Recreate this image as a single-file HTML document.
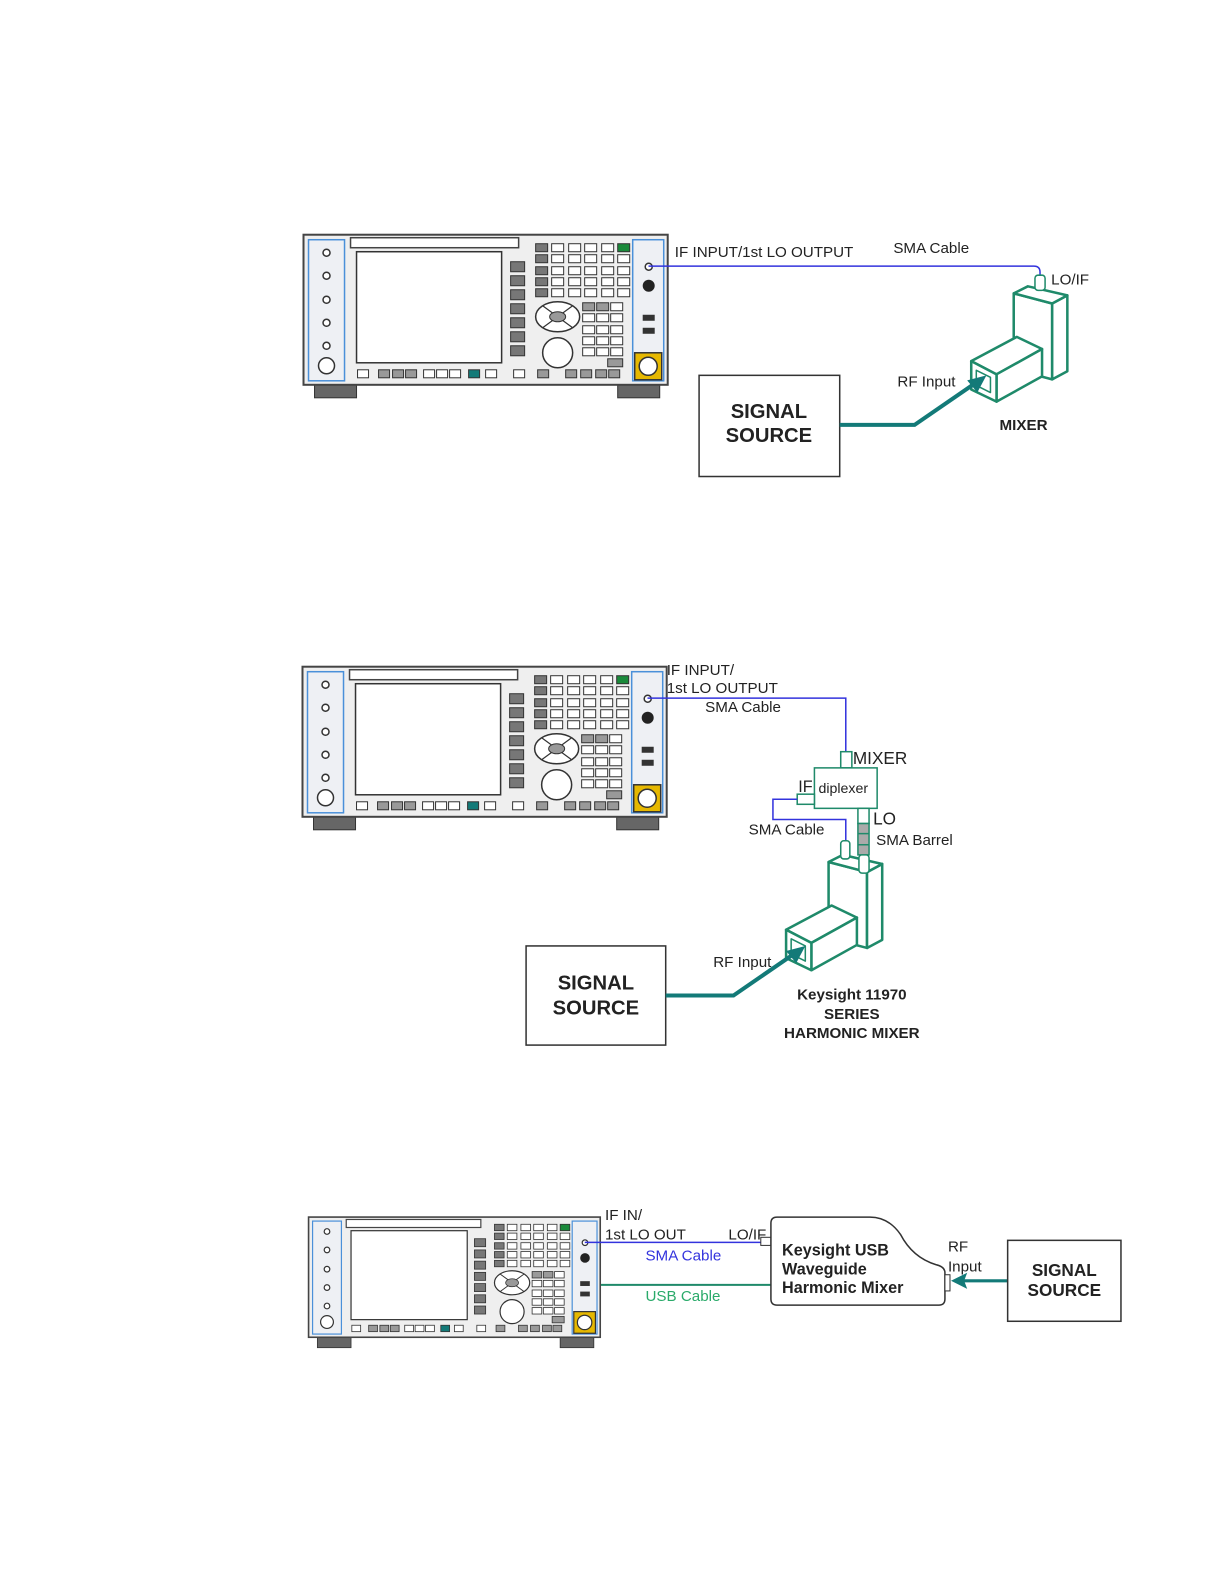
<!DOCTYPE html>
<html><head><meta charset="utf-8"><style>
html,body{margin:0;padding:0;background:#fff;}
svg{display:block;}
text{font-family:"Liberation Sans",sans-serif;fill:#222;}
</style></head><body>
<svg width="1224" height="1584" viewBox="0 0 1224 1584" xmlns="http://www.w3.org/2000/svg">
<defs>
<g id="inst">
 <rect x="11" y="148" width="42" height="15" fill="#666" stroke="#333"/>
 <rect x="314" y="148" width="42" height="15" fill="#666" stroke="#333"/>
 <rect x="0" y="0" width="364" height="150" fill="#efefef" stroke="#444" stroke-width="2"/>
 <rect x="47" y="3" width="168" height="10" fill="#fff" stroke="#444" stroke-width="1.5"/>
 <rect x="5" y="5" width="36" height="141" fill="#eef0f4" stroke="#4a90d9" stroke-width="1.5"/>
 <g fill="#fff" stroke="#333" stroke-width="1.5">
  <circle cx="23" cy="18" r="3.5"/><circle cx="23" cy="41" r="3.5"/><circle cx="23" cy="65" r="3.5"/><circle cx="23" cy="88" r="3.5"/><circle cx="23" cy="111" r="3.5"/><circle cx="23" cy="131" r="8"/>
  <rect x="53" y="17" width="145" height="111"/>
 </g>
 <g fill="#777" stroke="#333" stroke-width="1">
  <rect x="207" y="27" width="14" height="10"/><rect x="207" y="41" width="14" height="10"/><rect x="207" y="55" width="14" height="10"/><rect x="207" y="69" width="14" height="10"/><rect x="207" y="83" width="14" height="10"/><rect x="207" y="97" width="14" height="10"/><rect x="207" y="111" width="14" height="10"/>
  <rect x="232" y="9" width="12" height="8"/><rect x="232" y="20" width="12" height="8"/><rect x="232" y="32" width="12" height="8"/><rect x="232" y="43" width="12" height="8"/><rect x="232" y="54" width="12" height="8"/>
 </g>
 <g fill="#fff" stroke="#333" stroke-width="1">
  <rect x="248" y="9" width="12" height="8"/><rect x="265" y="9" width="12" height="8"/><rect x="281" y="9" width="12" height="8"/><rect x="298" y="9" width="12" height="8"/>
  <rect x="248" y="20" width="12" height="8"/><rect x="265" y="20" width="12" height="8"/><rect x="281" y="20" width="12" height="8"/><rect x="298" y="20" width="12" height="8"/><rect x="314" y="20" width="12" height="8"/>
  <rect x="248" y="32" width="12" height="8"/><rect x="265" y="32" width="12" height="8"/><rect x="281" y="32" width="12" height="8"/><rect x="298" y="32" width="12" height="8"/><rect x="314" y="32" width="12" height="8"/>
  <rect x="248" y="43" width="12" height="8"/><rect x="265" y="43" width="12" height="8"/><rect x="281" y="43" width="12" height="8"/><rect x="298" y="43" width="12" height="8"/><rect x="314" y="43" width="12" height="8"/>
  <rect x="248" y="54" width="12" height="8"/><rect x="265" y="54" width="12" height="8"/><rect x="281" y="54" width="12" height="8"/><rect x="298" y="54" width="12" height="8"/><rect x="314" y="54" width="12" height="8"/>
  <rect x="279" y="79" width="12" height="8"/><rect x="293" y="79" width="12" height="8"/><rect x="307" y="79" width="12" height="8"/>
  <rect x="279" y="91" width="12" height="8"/><rect x="293" y="91" width="12" height="8"/><rect x="307" y="91" width="12" height="8"/>
  <rect x="279" y="102" width="12" height="8"/><rect x="293" y="102" width="12" height="8"/><rect x="307" y="102" width="12" height="8"/>
  <rect x="279" y="113" width="12" height="8"/><rect x="293" y="113" width="12" height="8"/><rect x="307" y="113" width="12" height="8"/>
  <rect x="307" y="68" width="12" height="8"/>
  <rect x="54" y="135" width="11" height="8"/><rect x="120" y="135" width="11" height="8"/><rect x="133" y="135" width="11" height="8"/><rect x="146" y="135" width="11" height="8"/><rect x="182" y="135" width="11" height="8"/><rect x="210" y="135" width="11" height="8"/>
 </g>
 <rect x="314" y="9" width="12" height="8" fill="#1a8a3a" stroke="#333"/>
 <g fill="#999" stroke="#333" stroke-width="1">
  <rect x="279" y="68" width="12" height="8"/><rect x="293" y="68" width="12" height="8"/>
  <rect x="304" y="124" width="15" height="8"/>
  <rect x="75" y="135" width="11" height="8"/><rect x="89" y="135" width="11" height="8"/><rect x="102" y="135" width="11" height="8"/>
  <rect x="234" y="135" width="11" height="8"/><rect x="262" y="135" width="11" height="8"/><rect x="277" y="135" width="11" height="8"/><rect x="292" y="135" width="11" height="8"/><rect x="305" y="135" width="11" height="8"/>
 </g>
 <rect x="165" y="135" width="11" height="8" fill="#137a78" stroke="#333"/>
 <ellipse cx="254" cy="82" rx="22" ry="15" fill="#fff" stroke="#333" stroke-width="1.5"/>
 <path d="M239 71 L269 93 M269 71 L239 93" stroke="#333" stroke-width="1.2"/>
 <ellipse cx="254" cy="82" rx="8" ry="5" fill="#999" stroke="#333"/>
 <circle cx="254" cy="118" r="15" fill="#fff" stroke="#333" stroke-width="1.5"/>
 <rect x="329" y="5" width="31" height="141" fill="#eef0f4" stroke="#4a90d9" stroke-width="1.5"/>
 <circle cx="345" cy="32" r="3.5" fill="#fff" stroke="#333" stroke-width="1.5"/>
 <circle cx="345" cy="51" r="6" fill="#222"/>
 <rect x="339" y="80" width="12" height="6" fill="#333"/>
 <rect x="339" y="93" width="12" height="6" fill="#333"/>
 <rect x="331" y="118" width="27" height="27" fill="#e6b800" stroke="#333" stroke-width="1.5"/>
 <circle cx="344.5" cy="131.5" r="9" fill="#fff" stroke="#333" stroke-width="1.5"/>
</g>
<g id="mixbody" fill="#fff" stroke="#1f8a6a" stroke-width="2.5" stroke-linejoin="round">
 <polygon points="1002,290 1040,300 1040,375 1002,365"/>
 <polygon points="1040,300 1055,292 1055,367 1040,375"/>
 <polygon points="1002,290 1016,283 1055,292 1040,300"/>
 <polygon points="960,357 1005,333 1030,345 985,370"/>
 <polygon points="985,370 1030,345 1030,372 985,397"/>
 <polygon points="960,357 985,370 985,397 960,385"/>
 <polygon points="965,366 979,373 979,388 965,381" stroke-width="1.5"/>
</g>
</defs>
<g transform="scale(1.0117)">
<!-- Diagram 1 -->
<use href="#inst" transform="translate(300,232) scale(0.989)"/>
<path d="M641 263 L1022 263 Q1028 263 1028 269 L1028 273" fill="none" stroke="#3333dd" stroke-width="1.5"/>
<use href="#mixbody"/>
<rect x="1023" y="272" width="10" height="15" rx="3" fill="#fff" stroke="#1f8a6a" stroke-width="1.5"/>
<text x="667" y="254" font-size="15">IF INPUT/1st LO OUTPUT</text>
<text x="883" y="250" font-size="15">SMA Cable</text>
<text x="1039" y="281" font-size="15">LO/IF</text>
<text x="887" y="382" font-size="15">RF Input</text>
<text x="988" y="425" font-size="15" font-weight="bold">MIXER</text>
<rect x="691" y="371" width="139" height="100" fill="#fff" stroke="#333" stroke-width="1.5"/>
<text x="760" y="413" font-size="20" font-weight="bold" text-anchor="middle">SIGNAL</text>
<text x="760" y="437" font-size="20" font-weight="bold" text-anchor="middle">SOURCE</text>
<polyline points="830,420 904,420 965,378" fill="none" stroke="#137a78" stroke-width="4"/>
<polygon points="975,371 956,376 966,388" fill="#137a78"/>

<!-- Diagram 2 -->
<use href="#inst" transform="translate(299,659) scale(0.989)"/>
<path d="M640 690 L836 690 L836 743" fill="none" stroke="#3333dd" stroke-width="1.5"/>
<rect x="831" y="743" width="11" height="16" fill="#fff" stroke="#1f8a6a" stroke-width="1.5"/>
<rect x="805" y="759" width="62" height="40" fill="#fff" stroke="#1f8a6a" stroke-width="1.5"/>
<rect x="788" y="785" width="17" height="10" fill="#fff" stroke="#1f8a6a" stroke-width="1.5"/>
<path d="M788 790 L764 790 L764 810 L836 810 L836 832" fill="none" stroke="#3333dd" stroke-width="1.5"/>
<use href="#mixbody" transform="translate(-183,562)"/>
<rect x="831" y="831" width="9" height="18" rx="3" fill="#fff" stroke="#1f8a6a" stroke-width="1.5"/>
<rect x="848" y="799" width="11" height="15" fill="#fff" stroke="#1f8a6a" stroke-width="1.5"/>
<rect x="848" y="814" width="11" height="31" fill="#aaa" stroke="#1f8a6a" stroke-width="1.5"/>
<path d="M848 824 L859 824 M848 835 L859 835" stroke="#1f8a6a" stroke-width="1.5"/>
<rect x="849" y="845" width="10" height="18" rx="3" fill="#fff" stroke="#1f8a6a" stroke-width="1.5"/>
<text x="659" y="667" font-size="15">IF INPUT/</text>
<text x="659" y="685" font-size="15">1st LO OUTPUT</text>
<text x="697" y="704" font-size="15">SMA Cable</text>
<text x="843" y="755" font-size="17">MIXER</text>
<text x="809" y="784" font-size="14">diplexer</text>
<text x="789" y="783" font-size="16">IF</text>
<text x="863" y="815" font-size="17">LO</text>
<text x="866" y="835" font-size="15">SMA Barrel</text>
<text x="740" y="825" font-size="15">SMA Cable</text>
<text x="705" y="956" font-size="15">RF Input</text>
<text x="842" y="988" font-size="15" font-weight="bold" text-anchor="middle">Keysight 11970</text>
<text x="842" y="1007" font-size="15" font-weight="bold" text-anchor="middle">SERIES</text>
<text x="842" y="1026" font-size="15" font-weight="bold" text-anchor="middle">HARMONIC MIXER</text>
<rect x="520" y="935" width="138" height="98" fill="#fff" stroke="#333" stroke-width="1.5"/>
<text x="589" y="978" font-size="20" font-weight="bold" text-anchor="middle">SIGNAL</text>
<text x="589" y="1003" font-size="20" font-weight="bold" text-anchor="middle">SOURCE</text>
<polyline points="658,984 725,984 786,942" fill="none" stroke="#137a78" stroke-width="4"/>
<polygon points="796,935 777,940 787,952" fill="#137a78"/>

<!-- Diagram 3 -->
<use href="#inst" transform="translate(305,1203) scale(0.792)"/>
<path d="M578 1228 L752 1228" stroke="#3333dd" stroke-width="1.5"/>
<path d="M594 1270 L762 1270" stroke="#1f8a6a" stroke-width="2"/>
<rect x="752" y="1223" width="10" height="8" fill="#fff" stroke="#333" stroke-width="1"/>
<path d="M768 1203 L860 1203 Q878 1203 890 1220 Q902 1243 925 1250 Q934 1252 934 1258 L934 1284 Q934 1290 928 1290 L768 1290 Q762 1290 762 1284 L762 1209 Q762 1203 768 1203 Z" fill="#fff" stroke="#333" stroke-width="1.5"/>
<rect x="934" y="1260" width="5" height="16" fill="#fff" stroke="#333" stroke-width="1"/>
<text x="598" y="1206" font-size="15">IF IN/</text>
<text x="598" y="1225" font-size="15">1st LO OUT</text>
<text x="720" y="1225" font-size="15">LO/IF</text>
<text x="638" y="1246" font-size="15" style="fill:#3333dd">SMA Cable</text>
<text x="638" y="1286" font-size="15" style="fill:#2aaa6a">USB Cable</text>
<text x="773" y="1241" font-size="16" font-weight="bold">Keysight USB</text>
<text x="773" y="1260" font-size="16" font-weight="bold">Waveguide</text>
<text x="773" y="1278" font-size="16" font-weight="bold">Harmonic Mixer</text>
<text x="937" y="1237" font-size="15">RF</text>
<text x="937" y="1257" font-size="15">Input</text>
<path d="M996 1266 L952 1266" stroke="#137a78" stroke-width="3"/>
<polygon points="940,1266 956,1258 953,1266 956,1274" fill="#137a78"/>
<rect x="996" y="1226" width="112" height="80" fill="#fff" stroke="#333" stroke-width="1.5"/>
<text x="1052" y="1261" font-size="17" font-weight="bold" text-anchor="middle">SIGNAL</text>
<text x="1052" y="1281" font-size="17" font-weight="bold" text-anchor="middle">SOURCE</text>
</g>
</svg>
</body></html>
